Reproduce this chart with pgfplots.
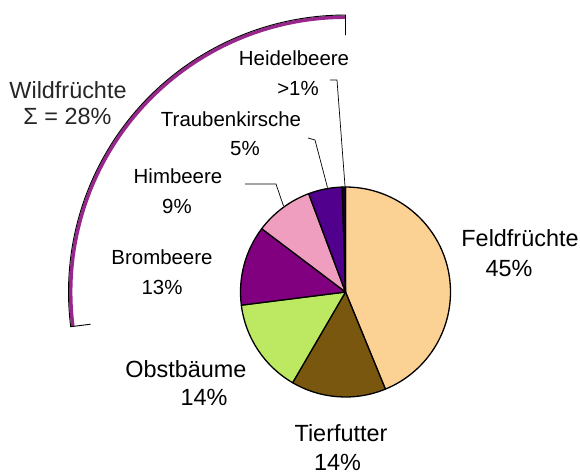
\documentclass[border=0pt]{standalone}
\usepackage{pgfplots}
\usepackage{pgfplotstable}
\pgfplotsset{compat=1.18}
\usepackage{fontspec}
\setmainfont{Liberation Sans}

\definecolor{cFeld}{RGB}{251,209,148}
\definecolor{cTier}{RGB}{122,87,14}
\definecolor{cObst}{RGB}{189,232,98}
\definecolor{cBrom}{RGB}{128,0,128}
\definecolor{cHimb}{RGB}{240,158,192}
\definecolor{cTraub}{RGB}{80,0,140}
\definecolor{cHeid}{RGB}{20,0,40}
\definecolor{cWild}{RGB}{152,38,140}

% shares of the pie (percent), clockwise from 12 o'clock
\pgfplotstableread{
name value
Feldfruechte 43.8
Tierfutter 14.6
Obstbaeume 14.6
Brombeere 12.3
Himbeere 9.0
Traubenkirsche 5.2
Heidelbeere 0.5
}\piedata

\newcommand{\bigf}{\fontsize{23.5}{28}\selectfont}
\newcommand{\smlf}{\fontsize{20.5}{24}\selectfont}

\pgfplotstablegetelem{0}{value}\of\piedata \pgfmathsetmacro\vA{\pgfplotsretval}%
\pgfplotstablegetelem{1}{value}\of\piedata \pgfmathsetmacro\vB{\pgfplotsretval}%
\pgfplotstablegetelem{2}{value}\of\piedata \pgfmathsetmacro\vC{\pgfplotsretval}%
\pgfplotstablegetelem{3}{value}\of\piedata \pgfmathsetmacro\vD{\pgfplotsretval}%
\pgfplotstablegetelem{4}{value}\of\piedata \pgfmathsetmacro\vE{\pgfplotsretval}%
\pgfplotstablegetelem{5}{value}\of\piedata \pgfmathsetmacro\vF{\pgfplotsretval}%
\pgfplotstablegetelem{6}{value}\of\piedata \pgfmathsetmacro\vG{\pgfplotsretval}%
\pgfmathsetmacro\aA{90}%
\pgfmathsetmacro\aB{\aA-3.6*\vA}%
\pgfmathsetmacro\aC{\aB-3.6*\vB}%
\pgfmathsetmacro\aD{\aC-3.6*\vC}%
\pgfmathsetmacro\aE{\aD-3.6*\vD}%
\pgfmathsetmacro\aF{\aE-3.6*\vE}%
\pgfmathsetmacro\aG{\aF-3.6*\vF}%
\pgfmathsetmacro\aH{\aG-3.6*\vG}%
\pgfmathsetmacro\aHback{\aH-180}%

\begin{document}%
\begin{tikzpicture}
\useasboundingbox (0,0) rectangle (580bp,474bp);
\begin{axis}[at={(0,0)}, anchor=south west, hide axis, scale only axis, width=580bp, height=474bp,
  xmin=0, xmax=580, ymin=0, ymax=474, y dir=reverse, clip=false]
% wedges
\filldraw[fill=cFeld, line width=1.3bp, line join=round] (axis cs:345.5,292) -- ++(\aA:105bp) arc[start angle=\aA, end angle=\aB, radius=105bp] -- cycle;
\filldraw[fill=cTier, line width=1.3bp, line join=round] (axis cs:345.5,292) -- ++(\aB:105bp) arc[start angle=\aB, end angle=\aC, radius=105bp] -- cycle;
\filldraw[fill=cObst, line width=1.3bp, line join=round] (axis cs:345.5,292) -- ++(\aC:105bp) arc[start angle=\aC, end angle=\aD, radius=105bp] -- cycle;
\filldraw[fill=cBrom, line width=1.3bp, line join=round] (axis cs:345.5,292) -- ++(\aD:105bp) arc[start angle=\aD, end angle=\aE, radius=105bp] -- cycle;
\filldraw[fill=cHimb, line width=1.3bp, line join=round] (axis cs:345.5,292) -- ++(\aE:105bp) arc[start angle=\aE, end angle=\aF, radius=105bp] -- cycle;
\filldraw[fill=cTraub, line width=1.3bp, line join=round] (axis cs:345.5,292) -- ++(\aF:105bp) arc[start angle=\aF, end angle=\aG, radius=105bp] -- cycle;
\filldraw[fill=cHeid, line width=1.3bp, line join=round] (axis cs:345.5,292) -- ++(\aG:105bp) arc[start angle=\aG, end angle=\aH, radius=105bp] -- cycle;
% Wildfruechte bracket
\draw[cWild, line width=3.5bp] (axis cs:345.5,292) ++(\aD:274.8bp) arc[start angle=\aD, end angle=\aH, radius=274.8bp];
\draw[line width=0.9bp, line join=miter] (axis cs:345.5,292) ++(\aD:257bp) -- ++(\aD:20bp) arc[start angle=\aD, end angle=\aH, radius=277bp] -- ++(\aHback:20bp);
% leader lines
\draw[line width=0.7bp] (axis cs:330,80) -- (axis cs:337,80) -- (axis cs:345,186);
\draw[line width=0.7bp] (axis cs:308,138) -- (axis cs:315,140) -- (axis cs:327.5,187.5);
\draw[line width=0.7bp] (axis cs:245,184) -- (axis cs:276,184) -- (axis cs:283.5,206);
% labels
\node[inner sep=0pt, text=black!85] at (axis cs:68,90) {\bigf Wildfrüchte};
\node[inner sep=0pt, text=black!85] at (axis cs:67.5,116) {\bigf Σ = 28\%};
\node[inner sep=0pt] at (axis cs:520,238) {\bigf Feldfrüchte};
\node[inner sep=0pt] at (axis cs:509,268) {\bigf 45\%};
\node[inner sep=0pt] at (axis cs:341,433) {\bigf Tierfutter};
\node[inner sep=0pt] at (axis cs:337.5,462) {\bigf 14\%};
\node[inner sep=0pt] at (axis cs:186,369) {\bigf Obstbäume};
\node[inner sep=0pt] at (axis cs:204,397) {\bigf 14\%};
\node[inner sep=0pt] at (axis cs:294,58) {\smlf Heidelbeere};
\node[inner sep=0pt] at (axis cs:298,88) {\smlf >1\%};
\node[inner sep=0pt] at (axis cs:231,119) {\smlf Traubenkirsche};
\node[inner sep=0pt] at (axis cs:245,149) {\smlf 5\%};
\node[inner sep=0pt] at (axis cs:178,176) {\smlf Himbeere};
\node[inner sep=0pt] at (axis cs:177,206) {\smlf 9\%};
\node[inner sep=0pt] at (axis cs:162,257.5) {\smlf Brombeere};
\node[inner sep=0pt] at (axis cs:162,287.5) {\smlf 13\%};
\end{axis}
\end{tikzpicture}%
\end{document}
